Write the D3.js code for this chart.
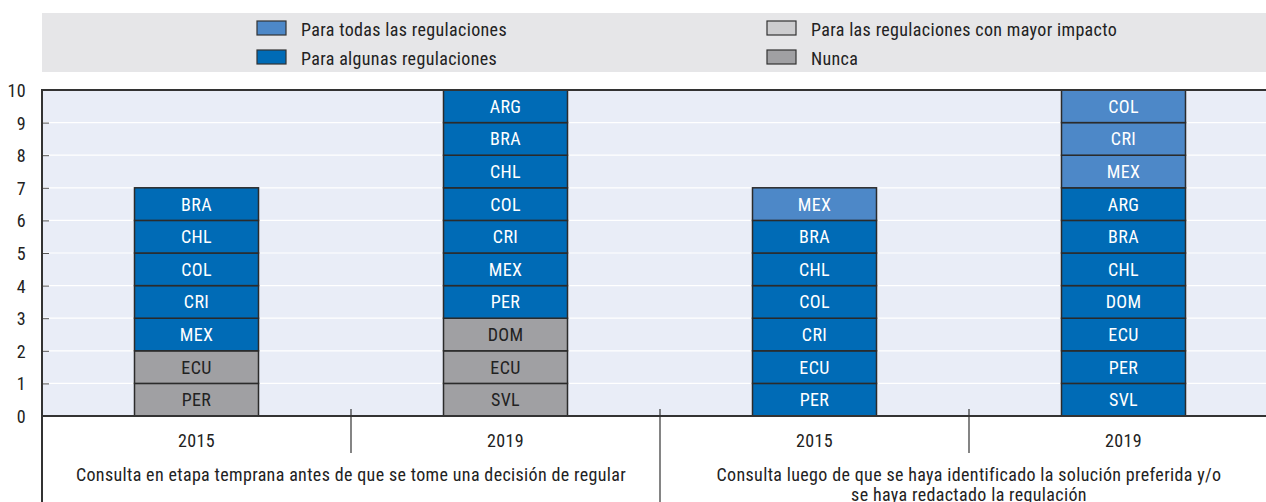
<!DOCTYPE html>
<html><head><meta charset="utf-8">
<script src="https://cdn.jsdelivr.net/npm/d3@7"></script>
<style>body{margin:0;background:#fff}svg{display:block}text{font-family:"Liberation Sans Narrow","Roboto Condensed","Liberation Sans",sans-serif;letter-spacing:0.35px}</style>
</head><body><svg id="c" width="1266" height="502"></svg>
<script>
const seriesNames = ["Nunca","Para las regulaciones con mayor impacto","Para algunas regulaciones","Para todas las regulaciones"];
const seriesColors = ["#a0a0a3","#cdcdcf","#006bb6","#4d88c8"];
const years = ["2015","2019","2015","2019"];
const groupLabels = [["Consulta en etapa temprana antes de que se tome una decisión de regular"],["Consulta luego de que se haya identificado la solución preferida y/o","se haya redactado la regulación"]];
// countries per bar, per series (bottom to top)
const nunca    = [["PER","ECU"],["SVL","ECU","DOM"],[],[]];
const mayor    = [[],[],[],[]];
const algunas  = [["MEX","CRI","COL","CHL","BRA"],["PER","MEX","CRI","COL","CHL","BRA","ARG"],["PER","ECU","CRI","COL","CHL","BRA"],["SVL","PER","ECU","DOM","CHL","BRA","ARG"]];
const todas    = [[],[],["MEX"],["MEX","CRI","COL"]];
const yTicks = [0,1,2,3,4,5,6,7,8,9,10];

const svg = d3.select("#c");
const L=42, R=1278, T=90, B=416, FS=18;
const x = d3.scaleBand().domain(d3.range(4)).range([L,R]).paddingInner(0.5987).paddingOuter(0.29935);
const y = d3.scaleLinear().domain([0,10]).range([B,T]);

// legend
svg.append("rect").attr("x",42).attr("y",13).attr("width",1266-42).attr("height",59).attr("fill","#e6e6e8");
const leg = [{i:3,x:257,y:28},{i:2,x:257,y:57},{i:1,x:767,y:28},{i:0,x:767,y:57}];
leg.forEach(d=>{
  svg.append("rect").attr("x",d.x).attr("y",d.y-7).attr("width",29).attr("height",14).attr("fill",seriesColors[d.i]).attr("stroke","#333").attr("stroke-width",1.2);
  svg.append("text").attr("x",d.x+44).attr("y",d.y+7.5).attr("font-size",FS).attr("fill","#222").text(seriesNames[d.i]);
});

// plot bg
svg.append("rect").attr("x",L).attr("y",T).attr("width",R-L).attr("height",B-T).attr("fill","#e9edf7");
svg.append("g").selectAll("line").data(yTicks.slice(1,-1)).join("line")
  .attr("x1",L).attr("x2",R).attr("y1",d=>y(d)).attr("y2",d=>y(d)).attr("stroke","#fff").attr("stroke-width",1.2);
const yAxis = svg.append("g").attr("transform",`translate(${L},0)`).call(d3.axisLeft(y).tickValues(yTicks).tickSize(-7).tickPadding(16).tickFormat(d3.format("d")));
yAxis.select(".domain").remove();
yAxis.selectAll(".tick line").attr("stroke","#555");
yAxis.selectAll(".tick text").attr("font-size",FS).attr("fill","#222").attr("dy","0.36em");

// bars
const lists=[nunca,mayor,algunas,todas];
const cells=[];
for(let b=0;b<4;b++){let base=0;lists.forEach((s,si)=>{s[b].forEach(c=>{cells.push({b,si,c,y0:base,y1:base+1});base++;});});}
const g = svg.append("g");
g.selectAll("rect").data(cells).join("rect")
  .attr("x",d=>x(d.b)).attr("width",x.bandwidth()).attr("y",d=>y(d.y1)).attr("height",d=>y(d.y0)-y(d.y1))
  .attr("fill",d=>seriesColors[d.si]).attr("stroke","#2b2b2b").attr("stroke-width",1.5);
g.selectAll("text").data(cells).join("text")
  .attr("x",d=>x(d.b)+x.bandwidth()/2).attr("y",d=>(y(d.y0)+y(d.y1))/2+6.5).attr("text-anchor","middle").attr("font-size",FS)
  .attr("fill",d=>d.si>=2?"#fff":"#222").text(d=>d.c);

// frame
svg.append("line").attr("x1",L).attr("x2",R).attr("y1",T).attr("y2",T).attr("stroke","#333").attr("stroke-width",2);
svg.append("line").attr("x1",L).attr("x2",R).attr("y1",B).attr("y2",B).attr("stroke","#333").attr("stroke-width",2);
svg.append("line").attr("x1",L).attr("x2",L).attr("y1",T-1).attr("y2",502).attr("stroke","#333").attr("stroke-width",2);

// x labels
const step = x.step();
years.forEach((yr,i)=>{
  svg.append("text").attr("x",x(i)+x.bandwidth()/2).attr("y",447).attr("text-anchor","middle").attr("font-size",FS).attr("fill","#222").text(yr);
});
[1,3].forEach(i=>{ const xs=L+step*i; svg.append("line").attr("x1",xs).attr("x2",xs).attr("y1",409).attr("y2",453).attr("stroke","#333").attr("stroke-width",1.2);});
const mid=L+step*2;
svg.append("line").attr("x1",mid).attr("x2",mid).attr("y1",409).attr("y2",502).attr("stroke","#333").attr("stroke-width",1.2);
groupLabels.forEach((lines,gi)=>{
  const cx=L+step*(gi*2+1);
  lines.forEach((t,li)=>svg.append("text").attr("x",cx).attr("y",481+li*19.5).attr("text-anchor","middle").attr("font-size",FS).attr("fill","#222").text(t));
});
</script></body></html>
